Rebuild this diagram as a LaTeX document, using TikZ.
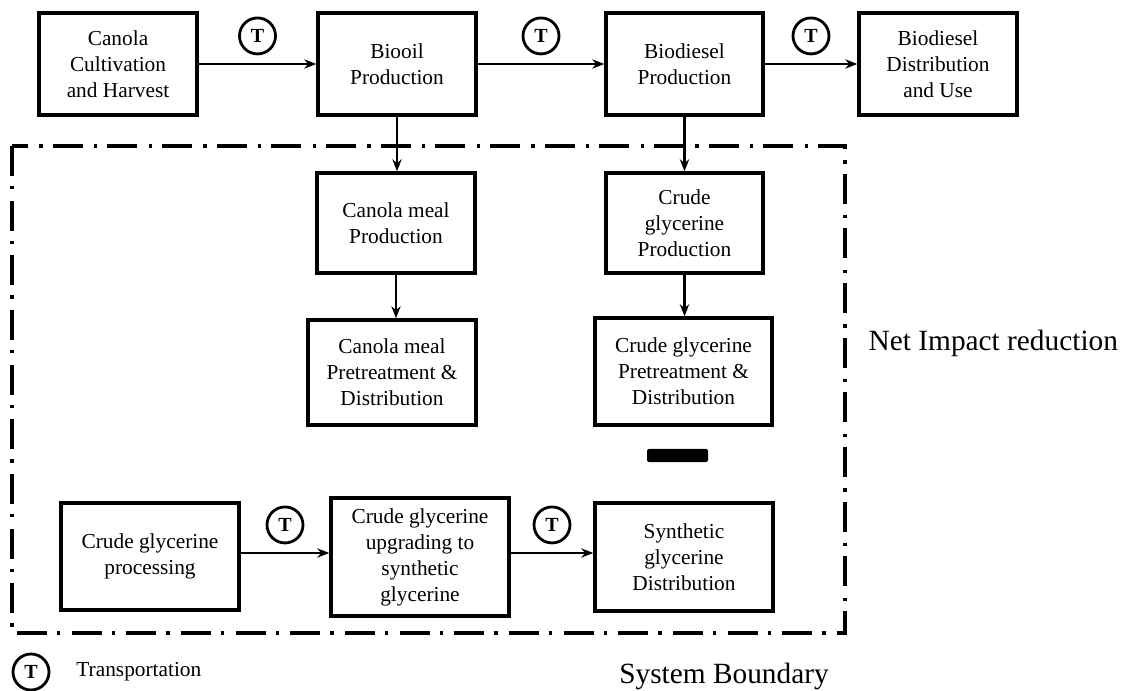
\documentclass[tikz,border=0pt]{standalone}
\usepackage{fontspec}
\setmainfont{Liberation Serif}
\usetikzlibrary{positioning,arrows.meta}
\tikzset{>={Stealth[length=9pt,width=7pt]}}

\begin{document}
\begin{tikzpicture}[x=0.75pt,y=-0.75pt,
  box/.style={draw,line width=2.6pt,align=center,inner sep=2pt,font=\fontsize{16}{19.5}\selectfont},
  tr/.style={draw,circle,line width=2.1pt,inner sep=0pt,minimum size=27pt,font=\fontsize{15}{15}\selectfont\bfseries},
  flow/.style={->,line width=2pt},
  bound/.style={line width=2.6pt,dash pattern=on 22.5pt off 7.5pt on 2.5pt off 8.5pt},
  big/.style={font=\fontsize{22}{26}\selectfont}]
\useasboundingbox (0,0) rectangle (1121,691);
\node[box,minimum width=118.5pt,minimum height=76.5pt] (cch) at (118,64) {Canola\\Cultivation\\and Harvest};
\node[box,minimum width=118.5pt,minimum height=76.5pt] (bop) at (397,64) {Biooil\\Production};
\node[box,minimum width=117.75pt,minimum height=76.5pt] (bdp) at (684.5,64) {Biodiesel\\Production};
\node[box,minimum width=118.5pt,minimum height=76.5pt] (bdd) at (938,64) {Biodiesel\\Distribution\\and Use};
\node[box,minimum width=118.5pt,minimum height=75pt] (cmp) at (396,223) {Canola meal\\Production};
\node[box,minimum width=117.75pt,minimum height=75pt] (cgp) at (684.5,223) {Crude\\glycerine\\Production};
\node[box,minimum width=126pt,minimum height=78.75pt] (cmd) at (392,372.5) {Canola meal\\Pretreatment \&\\Distribution};
\node[box,minimum width=132.75pt,minimum height=80.25pt] (cgd) at (683.5,371.5) {Crude glycerine\\Pretreatment \&\\Distribution};
\node[box,minimum width=133.5pt,minimum height=80.25pt] (gpr) at (150,556.5) {Crude glycerine\\processing};
\node[box,minimum width=133.5pt,minimum height=88.5pt] (gup) at (420,557) {Crude glycerine\\upgrading to\\synthetic\\glycerine};
\node[box,minimum width=133.5pt,minimum height=81pt] (sgd) at (684,557) {Synthetic\\glycerine\\Distribution};
\node[fill,rounded corners=1.5pt,inner sep=0pt,minimum width=45.75pt,minimum height=9.75pt] (minus) at (677.5,455.5) {};
\draw[flow] (cch) -- node[tr,above=6.5pt] (t1) {T} (bop);
\draw[flow] (bop) -- node[tr,above=6.5pt] (t2) {T} (bdp);
\draw[flow] (bdp) -- node[tr,above=6.5pt] (t3) {T} (bdd);
\draw[flow] (gpr.east |- 0,553) -- node[tr,above=6.5pt] (t4) {T} (gup.west |- 0,553);
\draw[flow] (gup.east |- 0,553) -- node[tr,above=6.5pt] (t5) {T} (sgd.west |- 0,553);
\draw[flow] (bop) -- (bop |- cmp.north);
\draw[flow] (bdp) -- (bdp |- cgp.north);
\draw[flow] (cmp) -- (cmp |- cmd.north);
\draw[flow] (cgp) -- (cgp |- cgd.north);
\draw[bound] (12,146) rectangle (845,633);
\node[big,anchor=west] (net) at (864,343) {Net Impact reduction};
\node[big,anchor=base] (sysb) at (724,683) {System Boundary};
\node[tr] (leg) at (31,672) {T};
\node[font=\fontsize{16}{19.5}\selectfont,right=16pt of leg] (legt) {Transportation};
\end{tikzpicture}
\end{document}
